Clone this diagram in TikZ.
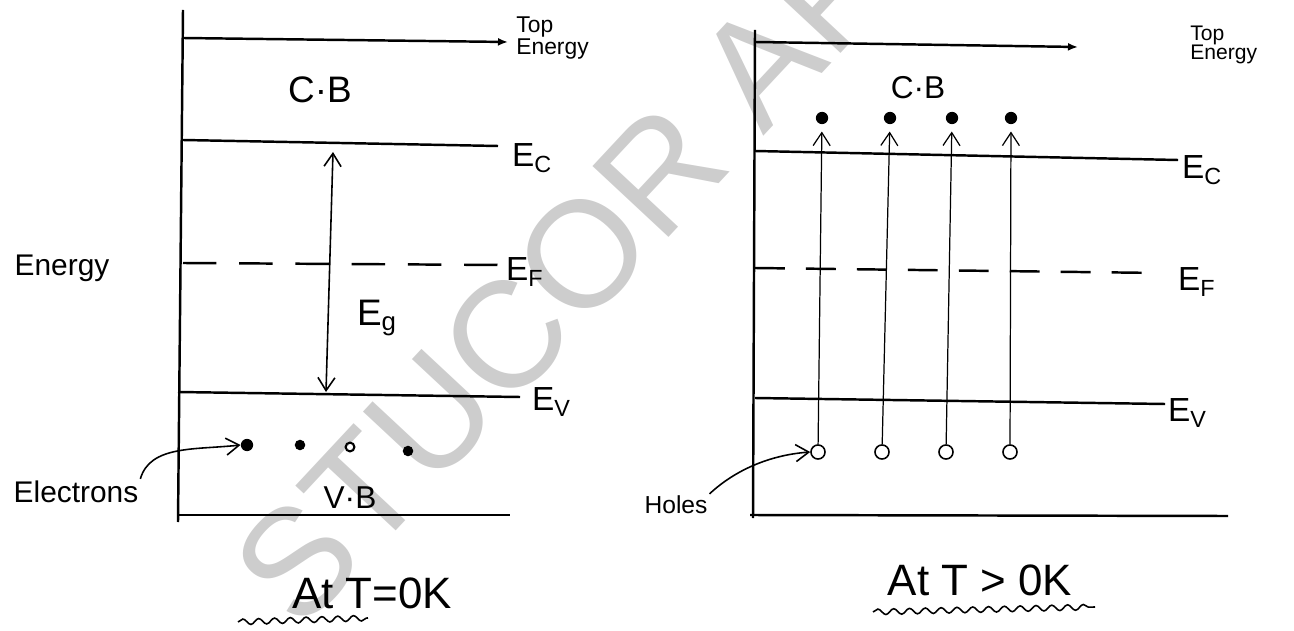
\documentclass[tikz,border=0pt]{standalone}
\usepackage{fontspec}
\setmainfont{Liberation Sans}
\usetikzlibrary{arrows.meta,positioning,decorations.pathmorphing}
\definecolor{wmgray}{HTML}{CDCDCD}
\tikzset{
  lvl/.style={line width=1.4pt},
  fermi/.style={line width=1.4pt, dash pattern=on 19pt off 13pt},
  top/.style={line width=1.4pt, -{Latex[length=2mm,width=1.6mm]}},
  arr/.style={-{Straight Barb[length=2.6mm,width=3.4mm]}, line width=0.9pt},
  lbl/.style={inner sep=1pt, font=\fontsize{19}{19}\selectfont},
  toplbl/.style={inner sep=0pt, align=left, font=\fontsize{13}{12}\selectfont},
  elec/.style={circle, fill=black, inner sep=0pt, minimum size=6pt},
  hole/.style={circle, draw, line width=0.9pt, inner sep=0pt, minimum size=8pt},
  title/.style={inner sep=1pt, font=\fontsize{25}{25}\selectfont},
  wave/.style={decorate, decoration={snake, amplitude=1.6pt, segment length=9pt}, line width=0.9pt},
  wm/.style={text=wmgray, inner sep=0pt, font=\fontsize{86}{86}\selectfont},
}
\begin{document}
\begin{tikzpicture}[x=0.02cm, y=-0.02cm]
  \useasboundingbox (0,0) rectangle (1294,631);
  % watermark
  \begin{scope}
    \clip (0,0) rectangle (1294,631);
    \node[wm, rotate=47, anchor=west] (mark) at (262,598) {STUCOR APP};
  \end{scope}

  % ---- at T = 0 K ----
  \coordinate (a0) at (183,10);   \coordinate (a1) at (178,522);
  \coordinate (t0) at (183,38);   \coordinate (t1) at (508,42);
  \coordinate (c0) at (183,140);  \coordinate (c1) at (498,146);
  \coordinate (f0) at (183,263);  \coordinate (f1) at (502,265);
  \coordinate (v0) at (178,392);  \coordinate (v1) at (520,397);
  \coordinate (b0) at (178,515);  \coordinate (b1) at (510,515);
  \draw[lvl] (a0) -- (a1);
  \draw[top] (t0) -- (t1);
  \draw[lvl] (c0) -- (c1);
  \draw[fermi] (f0) -- (f1);
  \draw[lvl] (v0) -- (v1);
  \draw[lvl] (b0) -- (b1);
  \node[toplbl, anchor=west] (topL) at (516,38) {Top\\Energy};
  \node[lbl, anchor=west] (ecL) at (510,158) {E\textsubscript{C}};
  \node[lbl, anchor=west] (efL) at (504,272) {E\textsubscript{F}};
  \node[lbl, anchor=west] (evL) at (530,402) {E\textsubscript{V}};
  \node[lbl, font=\fontsize{17}{17}\selectfont] (energy) at (62,268) {Energy};
  \node[lbl, font=\fontsize{21}{21}\selectfont] (cbL) at (320,90) {C·B};
  \node[lbl, font=\fontsize{18}{18}\selectfont] (vbL) at (350,498) {V·B};
  \coordinate (gt) at (333,152);  \coordinate (gb) at (326,392);
  \draw[arr, {Straight Barb[length=2.6mm,width=3.4mm]}-{Straight Barb[length=2.6mm,width=3.4mm]}] (gb) -- (gt);
  \node[lbl, font=\fontsize{21}{21}\selectfont] (egL) at (377,318) {E\textsubscript{g}};
  \node[elec, minimum size=7pt] (e1) at (247,445) {};
  \node[elec] (e2) at (300,445) {};
  \node[hole, minimum size=5pt, line width=1.2pt] (e3) at (350,447) {};
  \node[elec] (e4) at (408,451) {};
  \node[lbl, font=\fontsize{17}{17}\selectfont] (elecL) at (76,492) {Electrons};
  \draw[arr] (elecL.north east) .. controls (150,445) and (195,450) .. (e1.west);
  \node[title] (title0) at (372,593) {At T=0K};
  \coordinate (w0) at (238,622);  \coordinate (w1) at (368,618);
  \draw[wave] (w0) -- (w1);

  % ---- at T > 0 K ----
  \coordinate (A0) at (755,30);   \coordinate (A1) at (753,518);
  \coordinate (T0) at (755,42);   \coordinate (T1) at (1078,47);
  \coordinate (C0) at (755,151);  \coordinate (C1) at (1178,160);
  \coordinate (F0) at (755,268);  \coordinate (F1) at (1160,273);
  \coordinate (V0) at (755,398);  \coordinate (V1) at (1165,404);
  \coordinate (B0) at (750,515);  \coordinate (B1) at (1228,516);
  \draw[lvl] (A0) -- (A1);
  \draw[top] (T0) -- (T1);
  \draw[lvl] (C0) -- (C1);
  \draw[fermi, dash pattern=on 17pt off 12pt] (F0) -- (F1);
  \draw[lvl] (V0) -- (V1);
  \draw[lvl] (B0) -- (B1);
  \node[toplbl, anchor=west, font=\fontsize{12}{11}\selectfont] (topR) at (1190,45) {Top\\Energy};
  \node[lbl, anchor=west] (ecR) at (1180,170) {E\textsubscript{C}};
  \node[lbl, anchor=west] (efR) at (1176,282) {E\textsubscript{F}};
  \node[lbl, anchor=west] (evR) at (1166,413) {E\textsubscript{V}};
  \node[lbl, font=\fontsize{18}{18}\selectfont] (cbR) at (918,88) {C·B};
  \foreach \i/\x in {1/822,2/890,3/952,4/1011} {
    \node[elec, minimum size=7pt] (n\i) at (\x,118) {};
  }
  \foreach \i/\x in {1/818,2/882,3/946,4/1010} {
    \node[hole] (p\i) at (\x,452) {};
  }
  \foreach \i in {1,...,4} {
    \draw[arr, line width=0.7pt, shorten >=4pt] (p\i) -- (n\i);
  }
  \node[lbl, font=\fontsize{14}{14}\selectfont] (holesL) at (676,505) {Holes};
  \draw[arr] (holesL.north east) .. controls (735,470) and (770,455) .. (p1.west);
  \node[title] (title1) at (980,580) {At T > 0K};
  \coordinate (W0) at (873,612);  \coordinate (W1) at (1095,607);
  \draw[wave] (W0) -- (W1);
\end{tikzpicture}
\end{document}
